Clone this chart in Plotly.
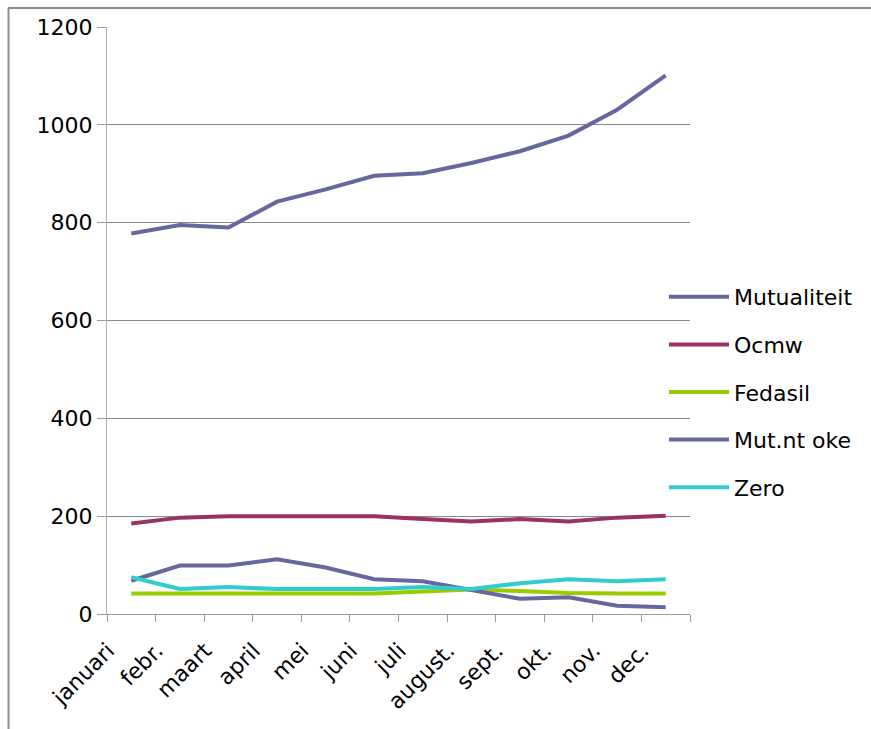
import plotly.graph_objects as go

months = ["januari", "febr.", "maart", "april", "mei", "juni", "juli",
          "august.", "sept.", "okt.", "nov.", "dec."]
mutualiteit = [778, 795, 790, 843, 868, 896, 901, 922, 946, 978, 1031, 1101]
ocmw = [185, 197, 200, 200, 200, 200, 194, 189, 194, 189, 197, 201]
fedasil = [42, 42, 42, 42, 42, 42, 46, 50, 47, 43, 42, 42]
mut_nt_oke = [68, 99, 99, 112, 95, 71, 67, 49, 31, 34, 17, 14]
zero = [75, 51, 55, 51, 51, 51, 55, 51, 63, 71, 67, 71]

series = [
    ("Mutualiteit", mutualiteit, "#67679F"),
    ("Ocmw", ocmw, "#993366"),
    ("Fedasil", fedasil, "#99CC00"),
    ("Mut.nt oke", mut_nt_oke, "#67679F"),
    ("Zero", zero, "#33CCCC"),
]

FONT = "DejaVu Sans"
FS = 22
fig = go.Figure()
for i, (name, vals, col) in enumerate(series):
    fig.add_trace(go.Scatter(x=months, y=vals, name=name, mode="lines",
                             line=dict(color=col, width=4),
                             legendgroup=f"g{i}"))

# label carrier for shifted category labels
fig.add_trace(go.Scatter(x=[-0.5, 11.5], y=[None, None], xaxis="x2",
                         showlegend=False, hoverinfo="skip", mode="lines"))

W, H = 871, 729
L, R, T, B = 107, 181, 27, 115
pw, ph = W - L - R, H - T - B

fig.update_layout(
    width=W, height=H,
    margin=dict(l=L, r=R, t=T, b=B, pad=0),
    paper_bgcolor="white", plot_bgcolor="white",
    font=dict(family=FONT, size=FS, color="black"),
    showlegend=True,
    legend=dict(x=(664 - L) / pw, xanchor="left", y=(H - B - 276) / ph, yanchor="top",
                tracegroupgap=16, itemwidth=60, bgcolor="rgba(0,0,0,0)",
                font=dict(family=FONT, size=FS, color="black")),
    xaxis=dict(type="category", categoryorder="array", categoryarray=months,
               range=[-0.5, 11.5], tickson="boundaries", ticks="outside",
               ticklen=7, tickcolor="#9a9a9a", showticklabels=False,
               showline=True, linecolor="#9a9a9a", linewidth=1,
               showgrid=False, zeroline=False),
    xaxis2=dict(overlaying="x", anchor="y", side="bottom", range=[-0.5, 11.5],
                tickmode="array", tickvals=[i - 0.48 for i in range(len(months))],
                ticktext=months, tickangle=-45, ticks="outside", ticklen=14,
                tickcolor="rgba(0,0,0,0)", showline=False,
                showgrid=False, zeroline=False,
                tickfont=dict(family=FONT, size=FS, color="black")),
    yaxis=dict(range=[0, 1200], tickmode="linear", tick0=0, dtick=200,
               ticks="outside", ticklen=9, tickcolor="#9a9a9a",
               showline=True, linecolor="#b0b0b0", linewidth=1,
               gridcolor="#8a8a8a", gridwidth=1, zeroline=False,
               tickfont=dict(family=FONT, size=FS, color="black")),
    shapes=[
        dict(type="line", xref="paper", yref="paper",
             x0=(8 - L) / pw, x1=(W + 5 - L) / pw,
             y0=(H - B - 8) / ph, y1=(H - B - 8) / ph,
             line=dict(color="#8c8c8c", width=2)),
        dict(type="line", xref="paper", yref="paper",
             x0=(8.5 - L) / pw, x1=(8.5 - L) / pw,
             y0=(H - B - 8) / ph, y1=(H - B - H - 5) / ph,
             line=dict(color="#8c8c8c", width=2)),
    ],
)

fig.write_html("out.html")
